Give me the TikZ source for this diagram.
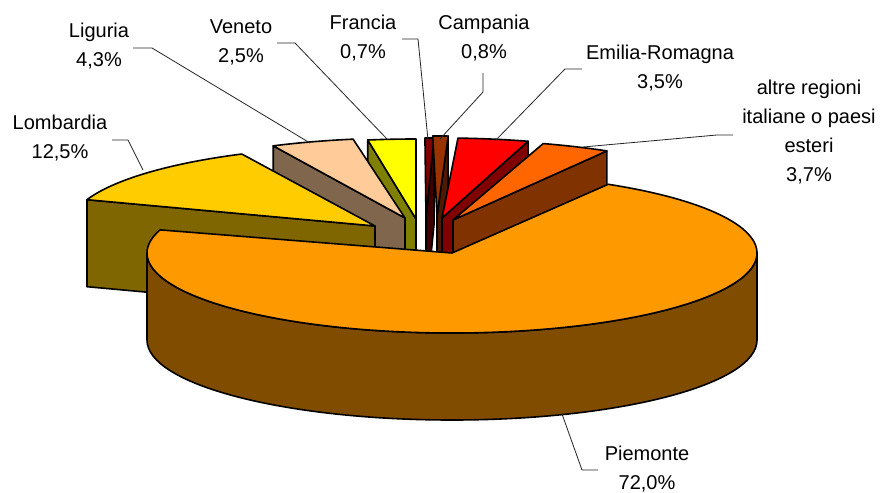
\documentclass[tikz,border=0pt]{standalone}
\usepackage{fontspec}
\setmainfont{Liberation Sans}
\definecolor{pieTop}{RGB}{255,153,0}
\definecolor{pieSide}{RGB}{128,77,0}
\definecolor{lomTop}{RGB}{255,204,0}
\definecolor{lomSide}{RGB}{128,102,0}
\definecolor{ligTop}{RGB}{255,204,153}
\definecolor{ligSide}{RGB}{128,102,77}
\definecolor{venTop}{RGB}{255,255,0}
\definecolor{venSide}{RGB}{128,128,0}
\definecolor{fraTop}{RGB}{128,0,0}
\definecolor{fraSide}{RGB}{64,0,0}
\definecolor{camTop}{RGB}{153,51,0}
\definecolor{camSide}{RGB}{77,26,0}
\definecolor{emiTop}{RGB}{255,0,0}
\definecolor{emiSide}{RGB}{128,0,0}
\definecolor{altTop}{RGB}{255,102,0}
\definecolor{altSide}{RGB}{128,51,0}
\begin{document}
\begin{tikzpicture}[x=1pt,y=-1pt,
  face/.style={draw=black,line width=1.6pt,line join=round},
  leader/.style={draw=black!85,line width=0.8pt},
  lbl/.style={inner sep=0pt,anchor=base,font=\fontsize{20}{29}\selectfont}]
\useasboundingbox (0,0) rectangle (882,492);
\fill[white] (0,0) rectangle (882,492);
% Francia
\filldraw[face,fill=fraSide] (426,218) -- ++(-88.5:305 and 80) -- ++(0,87) -- (426,305) -- cycle;
\filldraw[face,fill=fraTop] (426,218) -- ++(-88.5:305 and 80) arc[start angle=-88.5,end angle=-90.2,x radius=305,y radius=80] -- cycle;
% Campania
\filldraw[face,fill=camSide] (437,216) -- ++(-87.9:305 and 80) -- ++(0,87) -- (437,303) -- cycle;
\filldraw[face,fill=camTop] (437,216) -- ++(-87.9:305 and 80) arc[start angle=-87.9,end angle=-90.8,x radius=305,y radius=80] -- cycle;
% Veneto
\filldraw[face,fill=venSide] (416,219) -- ++(-99.1:305 and 80) -- ++(0,87) -- (416,306) -- cycle;
\filldraw[face,fill=venTop] (416,219) -- ++(-90:305 and 80) arc[start angle=-90,end angle=-99.1,x radius=305,y radius=80] -- cycle;
% Emilia-Romagna
\filldraw[face,fill=emiSide] (442,218) -- ++(-73.6:305 and 80) -- ++(0,87) -- (442,305) -- cycle;
\filldraw[face,fill=emiTop] (442,218) -- ++(-73.6:305 and 80) arc[start angle=-73.6,end angle=-87,x radius=305,y radius=80] -- cycle;
% Liguria
\filldraw[face,fill=ligSide] (405,218) -- ++(-115.6:305 and 80) -- ++(0,87) -- (405,305) -- cycle;
\filldraw[face,fill=ligTop] (405,218) -- ++(-99.8:305 and 80) arc[start angle=-99.8,end angle=-115.6,x radius=305,y radius=80] -- cycle;
% altre
\filldraw[face,fill=altSide] (453,220) -- ++(-59.7:305 and 80) -- ++(0,87) -- (453,307) -- cycle;
\filldraw[face,fill=altTop] (453,220) -- ++(-59.7:305 and 80) arc[start angle=-59.7,end angle=-72.8,x radius=305,y radius=80] -- cycle;
% Lombardia
\filldraw[face,fill=lomSide] (375,226) -- ++(-160.8:305 and 80) -- ++(0,87) -- (375,313) -- cycle;
\filldraw[face,fill=lomTop] (375,226) -- ++(-115.9:305 and 80) arc[start angle=-115.9,end angle=-160.8,x radius=305,y radius=80] -- cycle;
% Piemonte
\filldraw[face,fill=pieSide] (757,253) -- ++(0,87) arc[start angle=0,end angle=180,x radius=305,y radius=80] -- ++(0,-87) arc[start angle=180,end angle=0,x radius=305,y radius=80] -- cycle;
\filldraw[face,fill=pieTop] (452,253) -- ++(-59.2:305 and 80) arc[start angle=-59.2,end angle=196.8,x radius=305,y radius=80] -- cycle;
% labels
\node[lbl] (lomL) at (60,129) {\begin{tabular}[t]{@{}c@{}}Lombardia\\12,5\%\end{tabular}};
\node[lbl] (ligL) at (99,38) {\begin{tabular}[t]{@{}c@{}}Liguria\\4,3\%\end{tabular}};
\node[lbl] (venL) at (241,34) {\begin{tabular}[t]{@{}c@{}}Veneto\\2,5\%\end{tabular}};
\node[lbl] (fraL) at (363,30) {\begin{tabular}[t]{@{}c@{}}Francia\\0,7\%\end{tabular}};
\node[lbl] (camL) at (484,30) {\begin{tabular}[t]{@{}c@{}}Campania\\0,8\%\end{tabular}};
\node[lbl] (emiL) at (660,60) {\begin{tabular}[t]{@{}c@{}}Emilia-Romagna\\3,5\%\end{tabular}};
\node[lbl] (altL) at (809,95) {\begin{tabular}[t]{@{}c@{}}altre regioni\\italiane o paesi\\esteri\\3,7\%\end{tabular}};
\node[lbl] (pieL) at (647,460) {\begin{tabular}[t]{@{}c@{}}Piemonte\\72,0\%\end{tabular}};
% leader lines
\coordinate (lomA) at (112,140); \coordinate (lomB) at (128,140); \coordinate (lomC) at (143,170);
\coordinate (ligA) at (133,48); \coordinate (ligB) at (152,48); \coordinate (ligC) at (310,143);
\coordinate (venA) at (277,43); \coordinate (venB) at (295,43); \coordinate (venC) at (387,139);
\coordinate (fraA) at (402,39); \coordinate (fraB) at (418,39); \coordinate (fraC) at (428,140);
\coordinate (camA) at (483,73); \coordinate (camB) at (483,92); \coordinate (camC) at (440,139);
\coordinate (emiA) at (582,69); \coordinate (emiB) at (565,69); \coordinate (emiC) at (495,141);
\coordinate (altA) at (733,135); \coordinate (altB) at (717,135); \coordinate (altC) at (583,147);
\coordinate (pieA) at (598,470); \coordinate (pieB) at (582,470); \coordinate (pieC) at (562,414);
\draw[leader] (lomA) -- (lomB) -- (lomC);
\draw[leader] (ligA) -- (ligB) -- (ligC);
\draw[leader] (venA) -- (venB) -- (venC);
\draw[leader] (fraA) -- (fraB) -- (fraC);
\draw[leader] (camA) -- (camB) -- (camC);
\draw[leader] (emiA) -- (emiB) -- (emiC);
\draw[leader] (altA) -- (altB) -- (altC);
\draw[leader] (pieA) -- (pieB) -- (pieC);
\end{tikzpicture}
\end{document}
